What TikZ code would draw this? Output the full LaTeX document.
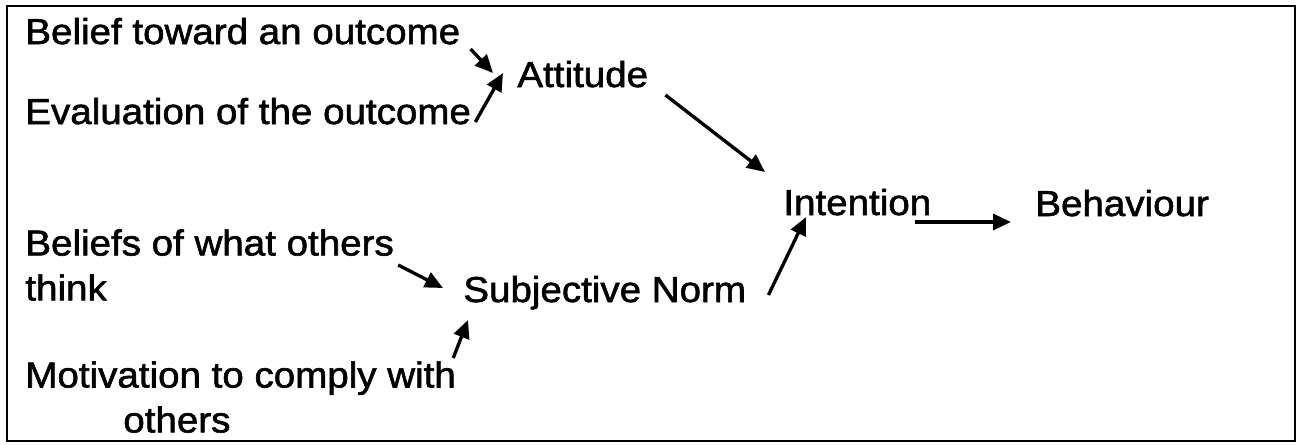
\documentclass[tikz,border=0pt]{standalone}
\usepackage{fontspec}
\setmainfont{Liberation Sans}[FakeStretch=1.07,FakeBold=1.6]
\usetikzlibrary{arrows.meta}
\tikzset{
  lbl/.style={anchor=base west,inner sep=0pt,align=left,font=\fontsize{20.5}{25.6}\selectfont},
  arr/.style={line width=1.9pt,-{Triangle[length=0.36cm,width=0.32cm]}}
}

\begin{document}
\begin{tikzpicture}[x=0.02cm,y=-0.02cm]
    \useasboundingbox (0,0) rectangle (1298,444);
    \draw[line width=1.2pt] (7,6) rectangle (1295,441);
    \node[lbl] (bel) at (25,44) {Belief toward an outcome};
    \node[lbl] (eval) at (25,124) {Evaluation of the outcome};
    \node[lbl] (att) at (517,87) {Attitude};
    \node[lbl] (int) at (783,215) {Intention};
    \node[lbl] (beh) at (1035,216) {Behaviour};
    \node[lbl,anchor=north west] (oth) at (25,229) {Beliefs of what others\\think};
    \node[lbl] (sn) at (463,302) {Subjective Norm};
    \node[lbl,anchor=north west] (mot) at (25,361) {Motivation to comply with\\\hspace*{1.96cm}others};
    \draw[arr] ([shift={(10,5)}]bel.base east) -- ([shift={(-24,-14)}]att.base west);
    \draw[arr] ([shift={(4,-2)}]eval.base east) -- ([shift={(-14,-14)}]att.base west);
    \draw[arr] ([shift={(17,8)}]att.base east) -- ([shift={(-18,-43)}]int.base west);
    \draw[arr] ([shift={(22,-7)}]sn.base east) -- ([shift={(23,2)}]int.base west);
    \draw[arr] ([shift={(-17,7)}]int.base east) -- ([shift={(-24,6)}]beh.base west);
    \draw[arr] ([shift={(4,36)}]oth.north east) -- ([shift={(-20,-14)}]sn.base west);
    \draw[arr] ([shift={(-3,-3)}]mot.north east) -- ([shift={(5,18)}]sn.base west);
\end{tikzpicture}
\end{document}
